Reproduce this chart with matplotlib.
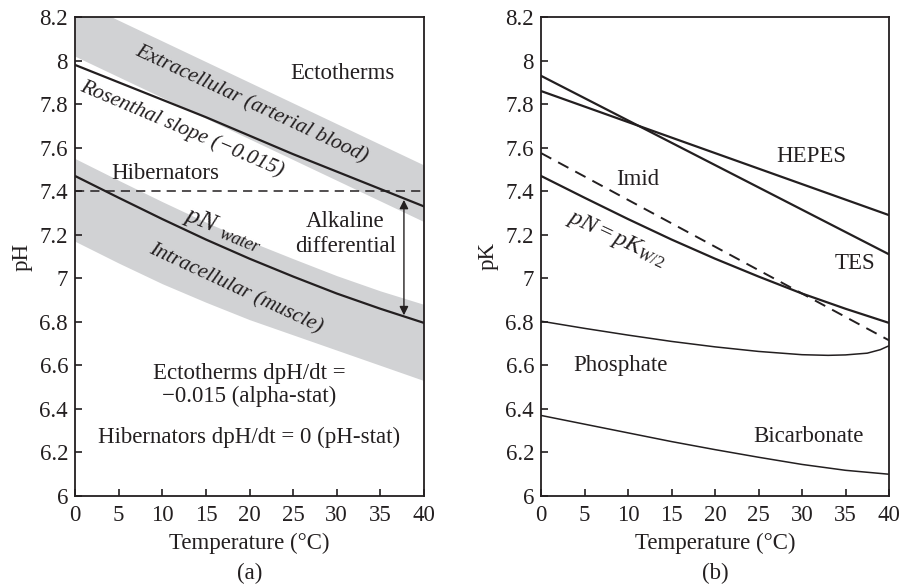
import matplotlib
matplotlib.use("Agg")
import matplotlib.pyplot as plt

plt.rcParams['font.family'] = ['Liberation Serif', 'DejaVu Serif']
plt.rcParams['mathtext.fontset'] = 'custom'
plt.rcParams['mathtext.rm'] = 'Liberation Serif'
plt.rcParams['mathtext.it'] = 'Liberation Serif:italic'

TXT = '#231f20'
GRAY = '#d1d2d4'

# ---------- data panel (a) ----------
temp = [0, 5, 10, 15, 20, 25, 30, 35, 40]
extra_lower = [8.02, 7.925, 7.83, 7.735, 7.64, 7.545, 7.45, 7.355, 7.26]
extra_upper = [8.28, 8.185, 8.09, 7.995, 7.90, 7.805, 7.71, 7.615, 7.52]
rosenthal = [7.98, 7.90, 7.82, 7.74, 7.655, 7.57, 7.49, 7.41, 7.33]
pn_water = [7.47, 7.37, 7.272, 7.178, 7.09, 7.008, 6.93, 6.86, 6.795]
intra_upper = [7.55, 7.45, 7.352, 7.258, 7.17, 7.09, 7.012, 6.942, 6.88]
intra_lower = [7.17, 7.07, 6.975, 6.89, 6.81, 6.74, 6.67, 6.60, 6.53]
hibernator_ph = 7.4
arrow_temp = 37.7
arrow_top = 7.36
arrow_bottom = 6.83

# ---------- data panel (b) ----------
temp_lin = [0, 40]
hepes = [7.86, 7.29]
tes = [7.93, 7.11]
imid = [7.575, 6.715]
temp_b = [0, 5, 10, 15, 20, 25, 30, 35, 40]
pn_kw = [7.47, 7.37, 7.272, 7.178, 7.09, 7.008, 6.93, 6.86, 6.795]
temp_phos = [0, 5, 10, 15, 20, 25, 30, 33, 35, 37.5, 39, 40]
phosphate = [6.803, 6.77, 6.739, 6.71, 6.685, 6.664, 6.649, 6.646, 6.648, 6.656, 6.672, 6.69]
bicarbonate = [6.37, 6.33, 6.29, 6.25, 6.213, 6.178, 6.145, 6.118, 6.10]

xticks = [0, 5, 10, 15, 20, 25, 30, 35, 40]
yticks = [6, 6.2, 6.4, 6.6, 6.8, 7, 7.2, 7.4, 7.6, 7.8, 8, 8.2]
ytick_labels = ['6', '6.2', '6.4', '6.6', '6.8', '7', '7.2', '7.4', '7.6', '7.8', '8', '8.2']

fig = plt.figure(figsize=(9.01, 5.87), dpi=100)
axa = fig.add_axes([75/901, 91/587, 349/901, 479/587])
axb = fig.add_axes([541/901, 91/587, 348/901, 479/587])

FS = 16.5
FSI = 15.5

def style(ax, ylabel, letter):
    ax.set_xlim(0, 40)
    ax.set_ylim(6, 8.2)
    ax.set_xticks(xticks)
    ax.set_xticklabels([str(t) for t in xticks])
    ax.set_yticks(yticks)
    ax.set_yticklabels(ytick_labels)
    ax.tick_params(direction='in', length=5, width=1.2, colors=TXT,
                   labelsize=FS, top=False, right=False)
    ax.tick_params(axis='x', pad=6.5)
    ax.tick_params(axis='y', pad=5)
    for s in ax.spines.values():
        s.set_linewidth(1.3)
        s.set_color(TXT)
    ax.set_xlabel('Temperature (°C)', fontsize=FS, color=TXT, labelpad=5)
    ax.set_ylabel(ylabel, fontsize=FS, color=TXT, labelpad=5)
    ax.text(0.5, -0.161, letter, transform=ax.transAxes, ha='center', va='center',
            fontsize=FS, color=TXT)

# ---- panel (a) ----
axa.fill_between(temp, extra_lower, extra_upper, color=GRAY, lw=0, zorder=1)
axa.fill_between(temp, intra_lower, intra_upper, color=GRAY, lw=0, zorder=1)
axa.plot(temp, rosenthal, color=TXT, lw=1.6, zorder=3)
axa.plot(temp, pn_water, color=TXT, lw=1.6, zorder=3)
axa.axhline(hibernator_ph, color=TXT, lw=1.1, ls=(0, (6, 4)), zorder=3)
axa.annotate('', xy=(arrow_temp, arrow_top), xytext=(arrow_temp, arrow_bottom),
             arrowprops=dict(arrowstyle='<|-|>', color=TXT, lw=1.0,
                             mutation_scale=13, shrinkA=0, shrinkB=0), zorder=4)
style(axa, 'pH', '(a)')

kw = dict(color=TXT, fontsize=FS, ha='center', va='center')
kwi = dict(color=TXT, fontsize=FSI, ha='center', va='center', style='italic',
           rotation_mode='anchor')
axa.text(30.7, 7.94, 'Ectotherms', **kw)
axa.text(20.2, 7.80, 'Extracellular (arterial blood)', rotation=-25, **kwi)
axa.text(12.3, 7.685, 'Rosenthal slope (−0.015)', rotation=-23, **kwi)
axa.text(10.3, 7.48, 'Hibernators', **kw)
axa.text(17.0, 7.225, r'$pN$ $_{water}$', rotation=-22, rotation_mode='anchor',
         color=TXT, fontsize=19, ha='center', va='center')
axa.text(31.0, 7.205, 'Alkaline\ndifferential', linespacing=1.25, **kw)
axa.text(18.4, 6.95, 'Intracellular (muscle)', rotation=-25, **kwi)
axa.text(20.0, 6.51, 'Ectotherms dpH/dt =\n−0.015 (alpha-stat)', linespacing=1.1, **kw)
axa.text(20.0, 6.27, 'Hibernators dpH/dt = 0 (pH-stat)', **kw)

# ---- panel (b) ----
axb.plot(temp_lin, hepes, color=TXT, lw=1.6)
axb.plot(temp_lin, tes, color=TXT, lw=1.6)
axb.plot(temp_lin, imid, color=TXT, lw=1.4, ls=(0, (6, 4)))
axb.plot(temp_b, pn_kw, color=TXT, lw=1.6)
axb.plot(temp_phos, phosphate, color=TXT, lw=1.1)
axb.plot(temp_b, bicarbonate, color=TXT, lw=1.1)
style(axb, 'pK', '(b)')

axb.text(31.1, 7.56, 'HEPES', **kw)
axb.text(36.1, 7.07, 'TES', **kw)
axb.text(11.1, 7.455, 'Imid', **kw)
axb.text(8.7, 7.18, r'$pN = pK_{W/2}$', rotation=-25, rotation_mode='anchor',
         color=TXT, fontsize=17.5, ha='center', va='center')
axb.text(9.1, 6.60, 'Phosphate', **kw)
axb.text(30.7, 6.275, 'Bicarbonate', **kw)

fig.savefig('out.png', dpi=100)
